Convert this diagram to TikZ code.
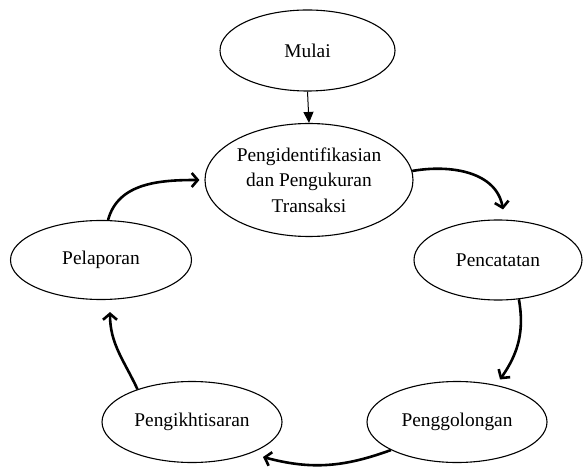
\documentclass[tikz,border=0pt]{standalone}
\usepackage{fontspec}
\setmainfont{Liberation Serif}
\usetikzlibrary{shapes.geometric,arrows.meta,calc}
\begin{document}
\begin{tikzpicture}[x=1pt,y=1pt,
  oval/.style={draw,ellipse,line width=1.1pt,inner sep=0pt,align=center,
    font=\fontsize{19.4}{25.5}\selectfont},
  thinarrow/.style={line width=1pt,-{Triangle[length=11pt,width=10pt]}},
  thickarrow/.style={line width=2.6pt,-{Straight Barb[length=6pt,width=14pt]}}]
\useasboundingbox (0,0) rectangle (585,466);
\node[oval,minimum width=175,minimum height=81] (mulai) at (307.5,415.5) {Mulai};
\node[oval,minimum width=208,minimum height=113] (big) at (309,286)
  {Pengidentifikasian\\dan Pengukuran\\Transaksi};
\node[oval,minimum width=181,minimum height=79] (pel) at (101,206) {Pelaporan};
\node[oval,minimum width=168,minimum height=80] (pen) at (498,206) {Pencatatan};
\node[oval,minimum width=180,minimum height=81] (pgi) at (192,44) {Pengikhtisaran};
\node[oval,minimum width=180,minimum height=81] (pgg) at (457,44) {Penggolongan};
\draw[thinarrow] (mulai.south) -- (big.north);
\draw[thickarrow] (pel.80) to[out=75,in=180] ($(big.west)+(-5,0)$);
\draw[thickarrow] (big.5) to[out=10,in=100] ($(pen.north)+(5,10)$);
\draw[thickarrow] (pen.-62) to[out=-80,in=55] ($(pgg.north)+(43,1.5)$);
\draw[thickarrow] (pgg.203) to[out=200,in=-15] ($(pgi.center)+(71,-35)$);
\draw[thickarrow] (pgi.149) to[out=115,in=-90] ($(pel.south)+(9,-12)$);
\end{tikzpicture}
\end{document}
